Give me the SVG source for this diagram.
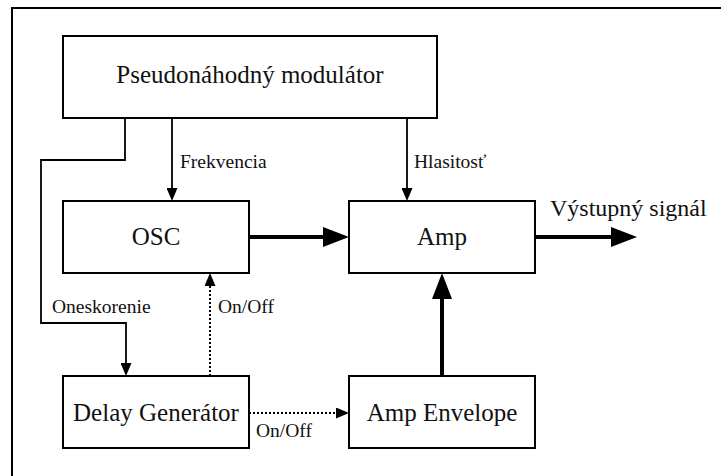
<svg xmlns="http://www.w3.org/2000/svg" width="721" height="476" viewBox="0 0 721 476">
  <style>
    .box { fill: #fff; stroke: #000; stroke-width: 2; }
    text { font-family: 'Liberation Serif', 'Times New Roman', Times, 'DejaVu Serif', serif; fill: #111; }
    .lbl { font-size: 25px; }
    .out { font-size: 24px; }
    .small { font-size: 19.5px; }
    .thin { fill: none; stroke: #000; stroke-width: 1.8; }
    .thick { fill: none; stroke: #000; stroke-width: 4; }
    .dot { fill: none; stroke: #000; stroke-width: 2; stroke-dasharray: 2 2; }
  </style>
  <defs>
    <marker id="headThin" markerUnits="userSpaceOnUse" markerWidth="13" markerHeight="11" refX="8" refY="5.5" orient="auto">
      <path d="M0,0 L13,5.5 L0,11 z" fill="#000"/>
    </marker>
    <marker id="headThick" markerUnits="userSpaceOnUse" markerWidth="26" markerHeight="20" refX="16" refY="10" orient="auto">
      <path d="M0,0 L26,10 L0,20 z" fill="#000"/>
    </marker>
  </defs>

  <!-- outer frame, open past the right and bottom edges -->
  <rect x="12" y="8" width="720" height="480" fill="#fff" stroke="#000" stroke-width="2"/>

  <g id="connectors">
    <path class="thin" d="M172,118 V196" marker-end="url(#headThin)"/>
    <path class="thin" d="M407,118 V196" marker-end="url(#headThin)"/>
    <path class="thin" d="M125,118 V160 H41 V323 H126 V371" marker-end="url(#headThin)"/>
    <path class="thick" d="M249,237 H339" marker-end="url(#headThick)"/>
    <path class="thick" d="M535,237 H627" marker-end="url(#headThick)"/>
    <path class="thick" d="M442,376 V283" marker-end="url(#headThick)"/>
    <path class="dot" d="M210,376 V278" marker-end="url(#headThin)"/>
    <path class="dot" d="M249,413 H344" marker-end="url(#headThin)"/>
  </g>

  <g id="modulator">
    <rect class="box" x="63" y="36" width="374" height="82"/>
    <text class="lbl" x="250" y="83" text-anchor="middle">Pseudonáhodný modulátor</text>
  </g>
  <g id="osc">
    <rect class="box" x="63" y="201" width="186" height="72"/>
    <text class="lbl" x="156" y="245" text-anchor="middle">OSC</text>
  </g>
  <g id="amp">
    <rect class="box" x="349" y="201" width="186" height="72"/>
    <text class="lbl" x="442" y="245" text-anchor="middle">Amp</text>
  </g>
  <g id="delay-generator">
    <rect class="box" x="63" y="376" width="186" height="72"/>
    <text class="lbl" x="156" y="421" text-anchor="middle">Delay Generátor</text>
  </g>
  <g id="amp-envelope">
    <rect class="box" x="349" y="376" width="186" height="72"/>
    <text class="lbl" x="442" y="421" text-anchor="middle">Amp Envelope</text>
  </g>

  <g id="labels">
    <text class="small" x="180" y="168">Frekvencia</text>
    <text class="small" x="414" y="168">Hlasitosť</text>
    <text class="small" x="52" y="313">Oneskorenie</text>
    <text class="small" x="218" y="313">On/Off</text>
    <text class="small" x="256" y="437">On/Off</text>
    <text class="out" x="550" y="216">Výstupný signál</text>
  </g>
</svg>
